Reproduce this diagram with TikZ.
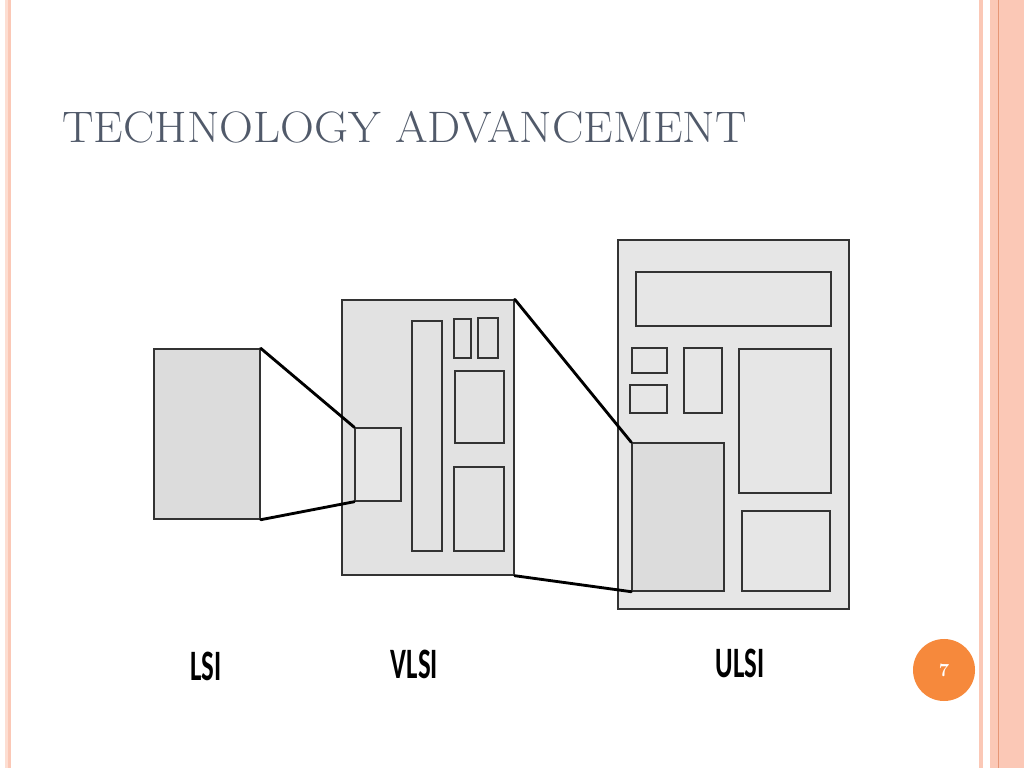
\documentclass[tikz,border=0pt]{standalone}
\usepackage{fontspec}
\usetikzlibrary{fit}
\newfontfamily\lblfont{Carlito}[FakeStretch=0.62]
\newfontfamily\titlefont{Latin Modern Roman}[FakeStretch=1.065]
\definecolor{tieude}{RGB}{81,90,106}
\definecolor{cam}{RGB}{246,137,60}
\definecolor{hong}{RGB}{251,200,182}
\definecolor{hongnhat}{RGB}{253,222,210}
\definecolor{hongdam}{RGB}{230,150,118}
\definecolor{xam}{RGB}{226,226,226}
\definecolor{xamnhat}{RGB}{230,230,230}
\definecolor{xamdam}{RGB}{220,220,220}
\tikzset{
	chip/.style={draw=black!80,line width=1pt,fill=xam,inner sep=0pt},
	zoomline/.style={black,line width=2pt,line cap=round},
	lbl/.style={anchor=base,inner sep=0pt,font=\lblfont\bfseries\fontsize{30.5}{33}\selectfont}
}
\begin{document}
\begin{tikzpicture}[x=0.703125pt,y=-0.703125pt]% 1 don vi = 1 px cua slide
	\fill[white] (0,0) rectangle (1024,768);
	\useasboundingbox (0,0) rectangle (1024,768);
	% vien hai ben
	\fill[hongnhat] (5,0) rectangle (7.5,768);
	\fill[hong] (7.5,0) rectangle (11,768);
	\fill[hong] (978.5,0) rectangle (983,768);
	\fill[hong] (990,0) rectangle (1024,768);
	\draw[hongdam,line width=.8pt] (998.5,0) -- (998.5,768);
	\node[anchor=base west,inner sep=0pt,text=tieude,font=\titlefont\fontsize{31}{36}\selectfont]
		(title) at (62,143) {TECHNOLOGY ADVANCEMENT};
	% LSI
	\node[chip,fill=xamdam,fit={(154,349) (260,519)}] (lsi) {};
	% VLSI
	\begin{scope}
		\node[chip,fit={(342,300) (514,575)}] (vlsi) {};
		\node[chip,fill=xamnhat,fit={(355,428) (401,501)}] (vzoom) {};
		\node[chip,fit={(412,321) (442,551)}] (vbar) {};
		\node[chip,fit={(454,319) (471,358)}] (va) {};
		\node[chip,fit={(478,318) (498,358)}] (vb) {};
		\node[chip,fit={(455,371) (504,443)}] (vc) {};
		\node[chip,fit={(454,467) (504,551)}] (vd) {};
	\end{scope}
	% ULSI
	\begin{scope}
		\node[chip,fill=xamnhat,fit={(618,240) (849,609)}] (ulsi) {};
		\node[chip,fill=xamnhat,fit={(636,272) (831,326)}] (utop) {};
		\node[chip,fill=xamnhat,fit={(632,348) (667,373)}] (ua) {};
		\node[chip,fill=xamnhat,fit={(630,385) (667,413)}] (ub) {};
		\node[chip,fill=xamnhat,fit={(684,348) (722,413)}] (uc) {};
		\node[chip,fill=xamnhat,fit={(739,349) (831,493)}] (ud) {};
		\node[chip,fill=xamnhat,fit={(742,511) (830,591)}] (ue) {};
		\node[chip,fill=xamdam,fit={(632,443) (724,591)}] (uzoom) {};
	\end{scope}
	% duong phong to
	\draw[zoomline] (lsi.north east) -- (vzoom.north west);
	\draw[zoomline] (lsi.south east) -- (vzoom.south west);
	\draw[zoomline] (vlsi.north east) -- (uzoom.north west);
	\draw[zoomline] (vlsi.south east) -- (uzoom.south west);
	% nhan
	\node[lbl] (lsitxt) at (206,680) {LSI};
	\node[lbl] (vlsitxt) at (414.5,678) {VLSI};
	\node[lbl] (ulsitxt) at (740,677) {ULSI};
	\node[circle,fill=cam,minimum size=43.6pt,inner sep=0pt,text=white,
		font=\bfseries\fontsize{13}{15}\selectfont] (trang) at (944,670) {7};
\end{tikzpicture}
\end{document}
